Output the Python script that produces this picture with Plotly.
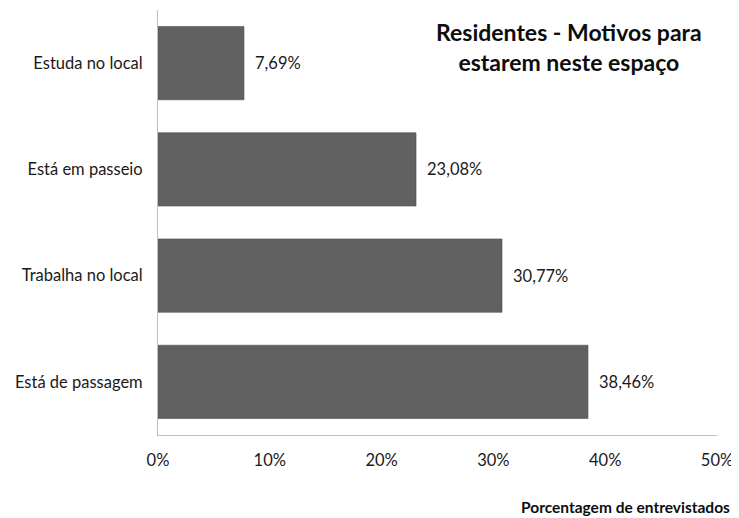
import plotly.graph_objects as go

categories = ["Está de passagem", "Trabalha no local", "Está em passeio", "Estuda no local"]
values = [38.46, 30.77, 23.08, 7.69]
labels = ["38,46%", "30,77%", "23,08%", "7,69%"]
tick_vals = [0, 10, 20, 30, 40, 50]
tick_text = ["0%", "10%", "20%", "30%", "40%", "50%"]

FONT = "Lato, 'Open Sans', sans-serif"
TXT = "#1a1a1a"

fig = go.Figure()
fig.add_trace(go.Bar(
    y=categories, x=values, orientation="h",
    marker=dict(color="#616161", line=dict(color="#4f4f4f", width=0.6)),
    width=0.69, hoverinfo="skip",
))
for c, v, t in zip(categories, values, labels):
    fig.add_annotation(x=v, y=c, text=t, showarrow=False, xanchor="left",
                       xshift=9, font=dict(family=FONT, size=16.5, color=TXT))

fig.add_annotation(xref="paper", yref="paper", x=0.735, y=0.985,
                   text="<b>Residentes - Motivos para<br>estarem neste espaço</b>",
                   showarrow=False, xanchor="center", yanchor="top", align="center",
                   font=dict(family=FONT, size=23, color="#0d0d0d"))
fig.add_annotation(xref="paper", yref="paper", x=1.026, y=-0.17,
                   text="<b>Porcentagem de entrevistados</b>",
                   showarrow=False, xanchor="right", yanchor="middle",
                   font=dict(family=FONT, size=15.5, color="#0d0d0d"))

fig.update_layout(
    width=731, height=510,
    margin=dict(l=150, r=22, t=2, b=83),
    paper_bgcolor="white", plot_bgcolor="white",
    showlegend=False,
    font=dict(family=FONT, size=16.5, color=TXT),
    xaxis=dict(range=[0, 50], tickvals=tick_vals, ticktext=tick_text,
               showgrid=False, zeroline=False, showline=True,
               linecolor="#bfbfbf", linewidth=1, ticks="",
               ticklabelstandoff=10, tickfont=dict(size=16.5, color=TXT)),
    yaxis=dict(showgrid=False, zeroline=False, showline=True,
               linecolor="#bfbfbf", linewidth=1, ticks="",
               ticklabelstandoff=11, tickfont=dict(size=16.5, color=TXT),
               range=[-0.5, 3.5]),
)

fig.write_html("out.html")
